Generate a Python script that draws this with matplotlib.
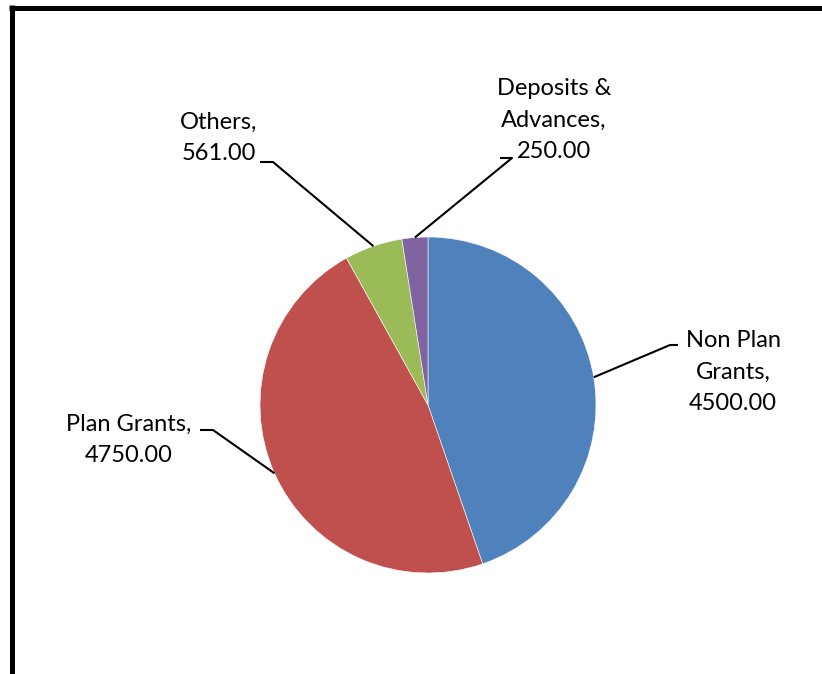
import numpy as np
import matplotlib.pyplot as plt
from matplotlib.lines import Line2D

W, H = 822, 674

# slice data, in drawing order (clockwise from 12 o'clock)
names = ["Non Plan\nGrants", "Plan Grants", "Others", "Deposits &\nAdvances"]
values = [4500.00, 4750.00, 561.00, 250.00]
colors = ["#4F81BD", "#C0504D", "#9BBB59", "#8064A2"]

# label layout in pixels from the top-left corner: text centre, elbow, line end
text_pos = [(733, 372), (129, 440), (219, 138), (554, 120)]
elbows = [(670, 345), (213, 430), (273, 162), (512, 158)]
line_ends = [(678, 345), (200, 430), (260, 162), (500, 158)]

plt.rcParams["font.family"] = ["Lato", "DejaVu Sans"]


def px(x, y):
    return x, H - y


fig = plt.figure(figsize=(W / 100, H / 100), dpi=100)
ax = fig.add_axes([0, 0, 1, 1])

center = px(428, 405)
radius = 168
wedges, _ = ax.pie(
    values,
    colors=colors,
    startangle=90,
    counterclock=False,
    center=center,
    radius=radius,
    frame=True,
    wedgeprops=dict(edgecolor="white", linewidth=0.4),
)
ax.set_xlim(0, W)
ax.set_ylim(0, H)
ax.set_aspect("equal")
ax.axis("off")

for w, name, val, tp, el, le in zip(wedges, names, values, text_pos, elbows, line_ends):
    mid = np.deg2rad((w.theta1 + w.theta2) / 2)
    sx = center[0] + radius * np.cos(mid)
    sy = center[1] + radius * np.sin(mid)
    ex, ey = px(*el)
    lx, ly = px(*le)
    ax.plot([sx, ex, lx], [sy, ey, ly], color="black", lw=1.5, solid_capstyle="butt")
    ax.text(*px(*tp), f"{name},\n{val:.2f}", ha="center", va="center",
            multialignment="center", fontsize=17, linespacing=1.62, color="black")

# thick frame along the top and left edges
fig.add_artist(Line2D([9 / W, 1], [1 - 7.5 / H, 1 - 7.5 / H], color="black", lw=3.6,
                      solid_capstyle="butt"))
fig.add_artist(Line2D([11.5 / W, 11.5 / W], [0, 1 - 5 / H], color="black", lw=3.6,
                      solid_capstyle="butt"))

fig.savefig("out.png", dpi=100)
